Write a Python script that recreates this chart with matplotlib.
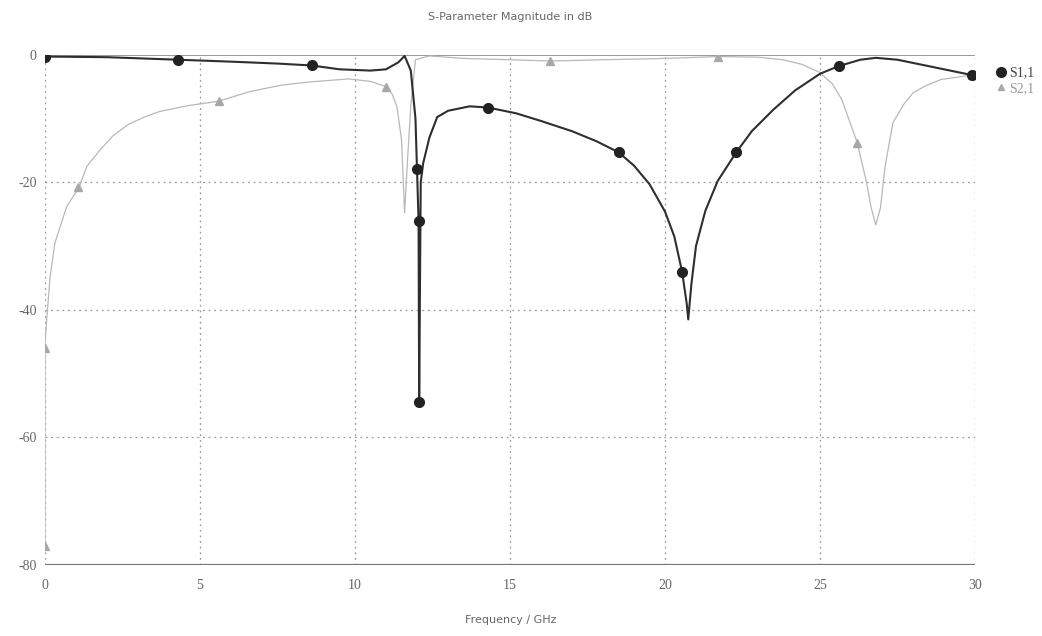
import matplotlib.pyplot as plt
from matplotlib.lines import Line2D

plt.rcParams['axes.unicode_minus'] = False

# S1,1 trace (GHz, dB)
s11_freq = [0.0, 2.0, 4.3, 6.0, 7.5, 8.6, 9.5, 10.5, 11.0, 11.4, 11.6, 11.8, 11.95, 12.0,
            12.05, 12.07, 12.09, 12.12, 12.2, 12.4, 12.65, 13.0, 13.7, 14.3, 15.2,
            16.0, 17.0, 17.8, 18.5, 19.0, 19.5, 20.0, 20.3, 20.55, 20.7, 20.75,
            20.85, 21.0, 21.3, 21.7, 22.3, 22.8, 23.5, 24.2, 25.0, 25.6, 26.3,
            26.8, 27.5, 28.5, 29.9]
s11_db = [-0.3, -0.4, -0.8, -1.1, -1.4, -1.7, -2.3, -2.5, -2.3, -1.2, -0.2, -2.5, -10.0,
          -18.0, -26.0, -54.5, -40.0, -20.0, -17.0, -13.0, -9.8, -8.8, -8.1, -8.3,
          -9.2, -10.4, -12.0, -13.6, -15.3, -17.4, -20.3, -24.6, -28.5, -34.0, -39.0,
          -41.5, -36.0, -30.0, -24.5, -19.8, -15.3, -12.0, -8.6, -5.6, -3.0, -1.8,
          -0.8, -0.5, -0.8, -1.8, -3.2]
s11_mark_freq = [0.0, 4.3, 8.6, 12.0, 12.05, 12.07, 14.3, 18.5, 20.55, 22.3, 25.6, 29.9]
s11_mark_db = [-0.3, -0.8, -1.7, -18.0, -26.0, -54.5, -8.3, -15.3, -34.0, -15.3, -1.8, -3.2]

# S2,1 trace
s21_freq = [0.0, 0.0, 0.02, 0.16, 0.32, 0.7, 1.1, 1.35, 1.8, 2.2, 2.7, 3.2, 3.7, 4.6,
            5.6, 6.6, 7.6, 8.5, 9.8, 10.5, 11.0, 11.2, 11.35, 11.5, 11.6, 11.7, 11.8,
            11.95, 12.4, 13.5, 15.0, 16.3, 18.0, 20.0, 21.7, 23.0, 23.8, 24.4, 25.0,
            25.4, 25.7, 26.2, 26.5, 26.65, 26.8, 26.95, 27.1, 27.35, 27.7, 28.0,
            28.4, 28.9, 29.9]
s21_db = [-77.0, -46.0, -43.8, -35.0, -29.5, -23.8, -20.8, -17.5, -14.8, -12.7, -10.9,
          -9.8, -8.9, -8.0, -7.3, -5.8, -4.8, -4.3, -3.8, -4.2, -5.0, -6.2, -8.1, -13.3,
          -24.8, -16.0, -8.0, -0.8, -0.2, -0.6, -0.8, -1.0, -0.8, -0.6, -0.3, -0.4,
          -0.8, -1.5, -2.8, -4.6, -7.0, -13.8, -20.0, -24.0, -26.7, -24.0, -17.5,
          -10.7, -7.8, -6.0, -4.9, -3.9, -3.2]
s21_mark_freq = [0.0, 0.0, 1.06, 5.6, 11.0, 16.3, 21.7, 26.2, 29.9]
s21_mark_db = [-77.0, -46.0, -20.8, -7.3, -5.0, -1.0, -0.3, -13.8, -3.2]

x_ticks = [0, 5, 10, 15, 20, 25, 30]
y_ticks = [0, -20, -40, -60, -80]

dark = '#2e2e2e'
light = '#b8b8b8'
grid_col = '#9a9a9a'
txt_col = '#666666'

fig = plt.figure(figsize=(10.42, 6.36), dpi=100)
ax = fig.add_axes([0.0432, 0.1116, 0.8925, 0.8025])

# grid: dotted, drawn by hand so the 0 and -80 lines can be solid
for x in x_ticks:
    ax.axvline(x, color=grid_col, lw=0.9, ls=(0, (1.5, 3)), zorder=0)
for y in y_ticks[1:-1]:
    ax.axhline(y, color=grid_col, lw=0.9, ls=(0, (1.5, 3)), zorder=0)
ax.axhline(0, color='#888888', lw=1.2, zorder=0)
ax.axhline(-80, color='#777777', lw=1.6, zorder=0)

ax.plot(s21_freq, s21_db, color=light, lw=0.9, zorder=2)
ax.plot(s21_mark_freq, s21_mark_db, ls='none', marker='^', ms=6,
        color='#a8a8a8', zorder=3)
ax.plot(s11_freq, s11_db, color=dark, lw=1.5, zorder=4)
ax.plot(s11_mark_freq, s11_mark_db, ls='none', marker='o', ms=7,
        color='#222222', zorder=5)

ax.set_xlim(0, 30)
ax.set_ylim(-80, 0)
ax.set_xticks(x_ticks)
ax.set_yticks(y_ticks)
for sp in ax.spines.values():
    sp.set_visible(False)
ax.tick_params(length=0, labelsize=10, labelcolor=txt_col, pad=10)
for lab in ax.get_xticklabels() + ax.get_yticklabels():
    lab.set_family('Liberation Serif')
ax.tick_params(axis='y', pad=6)

fig.text(0.49, 0.973, 'S-Parameter Magnitude in dB', ha='center', va='center',
         fontsize=8, color=txt_col)
fig.text(0.49, 0.025, 'Frequency / GHz', ha='center', va='center',
         fontsize=8, color=txt_col)

handles = [Line2D([], [], ls='none', marker='o', ms=7, color='#222222'),
           Line2D([], [], ls='none', marker='^', ms=5, color='#a8a8a8')]
leg = fig.legend(handles, ['S1,1', 'S2,1'], loc='upper left',
                 bbox_to_anchor=(0.942, 0.915), frameon=False,
                 handletextpad=0.1, labelspacing=0.2, handlelength=1.0,
                 prop={'family': 'Liberation Serif', 'size': 10})
leg.get_texts()[0].set_color('#444444')
leg.get_texts()[1].set_color('#999999')

fig.savefig('out.png', dpi=100)
